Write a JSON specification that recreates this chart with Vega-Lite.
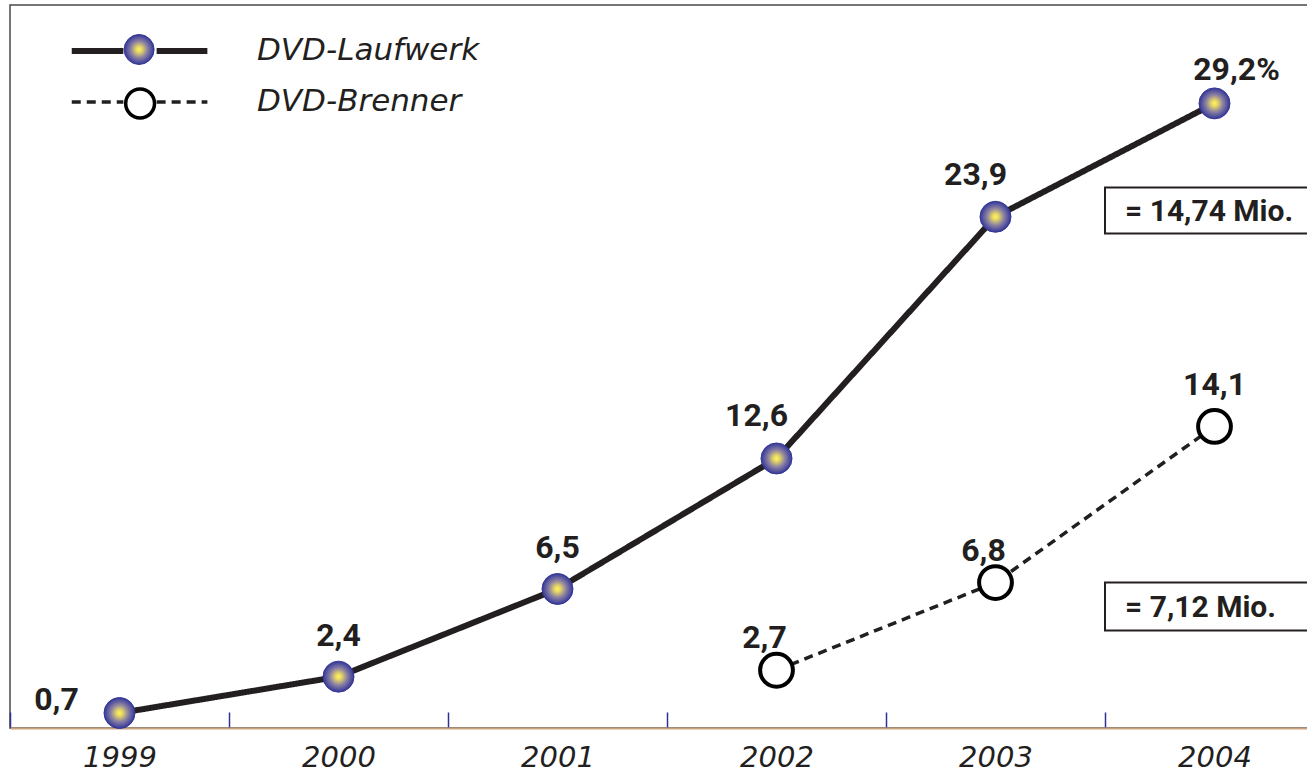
{
  "$schema": "https://vega.github.io/schema/vega-lite/v6.json",
  "width": 1314,
  "height": 723,
  "autosize": {"type": "none"},
  "padding": {"left": 10, "top": 5, "right": -17, "bottom": 46},
  "background": "white",
  "config": {"view": {"stroke": "#4a4a4a", "strokeWidth": 1.5}},
  "data": {"values": [
    {"year": "1999", "series": "DVD-Laufwerk", "value": 0.7, "label": "0,7"},
    {"year": "2000", "series": "DVD-Laufwerk", "value": 2.4, "label": "2,4"},
    {"year": "2001", "series": "DVD-Laufwerk", "value": 6.5, "label": "6,5"},
    {"year": "2002", "series": "DVD-Laufwerk", "value": 12.6, "label": "12,6"},
    {"year": "2003", "series": "DVD-Laufwerk", "value": 23.9, "label": "23,9"},
    {"year": "2004", "series": "DVD-Laufwerk", "value": 29.2, "label": "29,2%"},
    {"year": "2002", "series": "DVD-Brenner", "value": 2.7, "label": "2,7"},
    {"year": "2003", "series": "DVD-Brenner", "value": 6.8, "label": "6,8"},
    {"year": "2004", "series": "DVD-Brenner", "value": 14.1, "label": "14,1"}
  ]},
  "encoding": {
    "x": {
      "field": "year", "type": "ordinal",
      "scale": {"type": "band", "paddingInner": 0, "paddingOuter": 0},
      "axis": {
        "title": null, "grid": false, "labelAngle": 0,
        "domainColor": "#c9a27e", "domainWidth": 2,
        "tickColor": "#2e3190", "tickWidth": 1.5, "tickSize": -16, "tickBand": "extent",
        "labelFont": "DejaVu Sans", "labelFontSize": 29, "labelFontStyle": "italic", "labelFontWeight": 300,
        "labelColor": "#231f20", "labelPadding": 31, "labelBaseline": "top"
      }
    }
  },
  "layer": [
    {
      "mark": {"type": "line", "color": "#231f20", "strokeCap": "butt"},
      "encoding": {
        "y": {"field": "value", "type": "quantitative", "scale": {"domain": [0, 33.8], "nice": false}, "axis": null},
        "strokeDash": {
          "field": "series", "type": "nominal",
          "scale": {"domain": ["DVD-Laufwerk", "DVD-Brenner"], "range": [[1, 0], [9, 6]]},
          "legend": {
            "orient": "none", "legendX": 109.5, "legendY": 25.5, "title": null, "padding": 0,
            "symbolType": "M-3.9,0H-0.95M0.95,0H3.85", "symbolSize": 1225,
            "symbolStrokeColor": "#231f20", "symbolFillColor": "transparent",
            "labelFont": "DejaVu Sans", "labelFontSize": 31, "labelFontStyle": "italic", "labelFontWeight": 300,
            "labelColor": "#231f20", "labelOffset": 96.5, "rowPadding": 16, "labelBaseline": "middle", "labelLimit": 500
          }
        },
        "strokeWidth": {
          "field": "series", "type": "nominal",
          "scale": {"type": "ordinal", "domain": ["DVD-Laufwerk", "DVD-Brenner"], "range": [6, 3.5]},
          "legend": {
            "orient": "none", "legendX": 109.5, "legendY": 25.5, "title": null, "padding": 0,
            "symbolType": "M-3.9,0H-0.95M0.95,0H3.85", "symbolSize": 1225,
            "symbolStrokeColor": "#231f20", "symbolFillColor": "transparent",
            "labelFont": "DejaVu Sans", "labelFontSize": 31, "labelFontStyle": "italic", "labelFontWeight": 300,
            "labelColor": "#231f20", "labelOffset": 96.5, "rowPadding": 16, "labelBaseline": "middle", "labelLimit": 500
          }
        }
      }
    },
    {
      "transform": [{"filter": "datum.series === 'DVD-Laufwerk'"}],
      "mark": {"type": "point", "filled": true, "opacity": 1, "size": 960, "shape": "circle",
        "fill": {"gradient": "radial", "x1": 0.5, "y1": 0.5, "r1": 0, "x2": 0.5, "y2": 0.5, "r2": 0.5,
          "stops": [{"offset": 0, "color": "#fff45c"}, {"offset": 0.2, "color": "#e6d664"}, {"offset": 0.55, "color": "#8c82a2"}, {"offset": 1, "color": "#33369a"}]},
        "stroke": "#343694", "strokeWidth": 1},
      "encoding": {
        "y": {"field": "value", "type": "quantitative", "scale": {"domain": [0, 33.8], "nice": false}, "axis": null},
        "shape": {
          "field": "series", "type": "nominal",
          "scale": {"domain": ["DVD-Laufwerk"], "range": ["circle"]},
          "legend": {"orient": "none", "legendX": 113.6, "legendY": 29, "title": null, "padding": 0,
            "symbolSize": 900, "symbolStrokeWidth": 1, "labelExpr": "''"}
        }
      }
    },
    {
      "transform": [{"filter": "datum.series === 'DVD-Brenner'"}],
      "mark": {"type": "point", "filled": true, "opacity": 1, "fill": "white", "strokeWidth": 4, "size": 1075, "shape": "circle"},
      "encoding": {
        "y": {"field": "value", "type": "quantitative", "scale": {"domain": [0, 33.8], "nice": false}, "axis": null},
        "stroke": {
          "field": "series", "type": "nominal",
          "scale": {"domain": ["DVD-Brenner"], "range": ["#000000"]},
          "legend": {"orient": "none", "legendX": 113.6, "legendY": 82, "title": null, "padding": 0,
            "symbolType": "circle", "symbolSize": 830, "symbolStrokeWidth": 3.5, "symbolOpacity": 1,
            "symbolFillColor": "#ffffff", "labelExpr": "''"}
        }
      }
    },
    {
      "transform": [{"filter": "(datum.series === 'DVD-Laufwerk' && (datum.year === '2000' || datum.year === '2001')) || (datum.series === 'DVD-Brenner' && datum.year === '2004')"}],
      "mark": {"type": "text", "font": "Roboto", "fontWeight": "bold", "fontSize": 32, "color": "#231f20", "align": "center", "baseline": "middle", "dy": -41},
      "encoding": {
        "y": {"field": "value", "type": "quantitative", "scale": {"domain": [0, 33.8], "nice": false}, "axis": null},
        "text": {"field": "label"}
      }
    },
    {
      "transform": [{"filter": "datum.series === 'DVD-Laufwerk' && datum.year === '1999'"}],
      "mark": {"type": "text", "font": "Roboto", "fontWeight": "bold", "fontSize": 32, "color": "#231f20", "align": "center", "baseline": "middle", "dx": -63, "dy": -13},
      "encoding": {
        "y": {"field": "value", "type": "quantitative", "scale": {"domain": [0, 33.8], "nice": false}, "axis": null},
        "text": {"field": "label"}
      }
    },
    {
      "transform": [{"filter": "datum.series === 'DVD-Laufwerk' && (datum.year === '2002' || datum.year === '2003')"}],
      "mark": {"type": "text", "font": "Roboto", "fontWeight": "bold", "fontSize": 32, "color": "#231f20", "align": "center", "baseline": "middle", "dx": -20, "dy": -42},
      "encoding": {
        "y": {"field": "value", "type": "quantitative", "scale": {"domain": [0, 33.8], "nice": false}, "axis": null},
        "text": {"field": "label"}
      }
    },
    {
      "transform": [{"filter": "datum.series === 'DVD-Laufwerk' && datum.year === '2004'"}],
      "mark": {"type": "text", "font": "Roboto", "fontWeight": "bold", "fontSize": 32, "color": "#231f20", "align": "center", "baseline": "middle", "dx": 22, "dy": -33},
      "encoding": {
        "y": {"field": "value", "type": "quantitative", "scale": {"domain": [0, 33.8], "nice": false}, "axis": null},
        "text": {"field": "label"}
      }
    },
    {
      "transform": [{"filter": "datum.series === 'DVD-Brenner' && (datum.year === '2002' || datum.year === '2003')"}],
      "mark": {"type": "text", "font": "Roboto", "fontWeight": "bold", "fontSize": 32, "color": "#231f20", "align": "center", "baseline": "middle", "dx": -12, "dy": -32},
      "encoding": {
        "y": {"field": "value", "type": "quantitative", "scale": {"domain": [0, 33.8], "nice": false}, "axis": null},
        "text": {"field": "label"}
      }
    },
    {
      "data": {"values": [
        {"year": "2004", "hi": 25.27, "lo": 23.12, "mid": 24.2, "text": "= 14,74 Mio."},
        {"year": "2004", "hi": 6.8, "lo": 4.56, "mid": 5.7, "text": "= 7,12 Mio."}
      ]},
      "mark": {"type": "rect", "fill": "white", "stroke": "#231f20", "strokeWidth": 2},
      "encoding": {
        "y": {"field": "hi", "type": "quantitative", "scale": {"domain": [0, 33.8], "nice": false}, "axis": null},
        "y2": {"field": "lo"}
      }
    },
    {
      "data": {"values": [
        {"year": "2004", "hi": 25.27, "lo": 23.12, "mid": 24.2, "text": "= 14,74 Mio."},
        {"year": "2004", "hi": 6.8, "lo": 4.56, "mid": 5.7, "text": "= 7,12 Mio."}
      ]},
      "mark": {"type": "text", "font": "Roboto", "fontWeight": "bold", "fontSize": 30, "color": "#231f20", "align": "left", "baseline": "middle", "dx": 20, "dy": 2},
      "encoding": {
        "x": {"field": "year", "type": "ordinal", "bandPosition": 0},
        "y": {"field": "mid", "type": "quantitative", "scale": {"domain": [0, 33.8], "nice": false}, "axis": null},
        "text": {"field": "text"}
      }
    }
  ]
}
